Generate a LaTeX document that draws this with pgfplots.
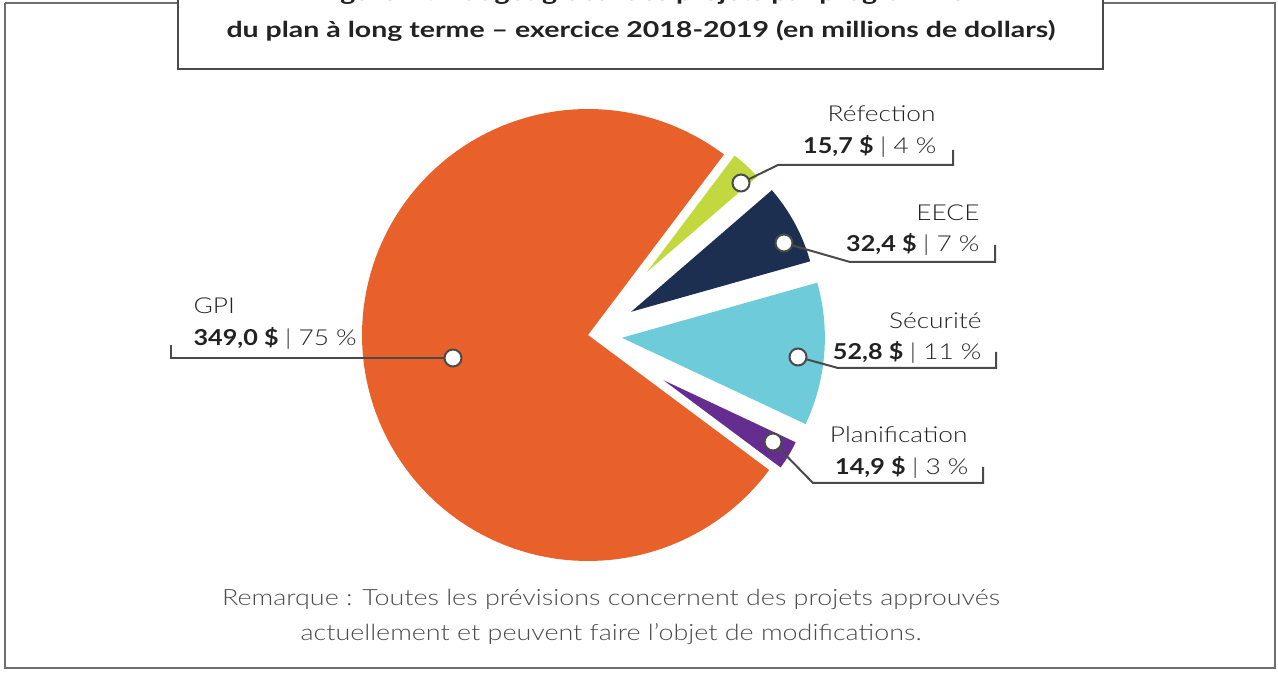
\documentclass[border=0pt]{standalone}
\usepackage{fontspec}
\setmainfont{Lato}[FakeStretch=1.15]
\newfontfamily\lightfont{Lato Light}[FakeStretch=1.2]
\newfontfamily\titlefont{Lato}[FakeStretch=1.3]
\usepackage{pgfplots}
\pgfplotsset{compat=1.18}
\definecolor{gpi}{HTML}{E8602A}
\definecolor{refc}{HTML}{C3D83F}
\definecolor{eece}{HTML}{1D2F50}
\definecolor{secc}{HTML}{6ECBD9}
\definecolor{plan}{HTML}{652D8F}
\definecolor{ink}{HTML}{4A4A4A}
\definecolor{txt}{HTML}{222222}
\definecolor{frame}{HTML}{6E6E6E}

% values (millions $)
\def\vGPI{349.0}
\def\vPLAN{14.9}
\def\vSEC{52.8}
\def\vEECE{32.4}
\def\vREF{15.7}

\newcommand{\slice}[5]{%
 \pgfmathsetmacro{\mA}{(#1+#2)/2}%
 \pgfmathsetmacro{\cX}{588+#4*cos(\mA)}%
 \pgfmathsetmacro{\cY}{342+#4*sin(\mA)}%
 \edef\doit{\noexpand\addplot[fill=#5,draw=none,domain=#1:#2,samples=120,variable=\noexpand\t] ({\cX+#3*cos(\noexpand\t)},{\cY+#3*sin(\noexpand\t)}) -- (axis cs:\cX,\cY) -- cycle;}%
 \doit}

\begin{document}
\begin{tikzpicture}
\pgfmathsetmacro{\tot}{\vGPI+\vPLAN+\vSEC+\vEECE+\vREF}
\pgfmathsetmacro{\aA}{53}
\pgfmathsetmacro{\aB}{\aA+360*(\vGPI/\tot)}
\pgfmathsetmacro{\aC}{\aB+360*(\vPLAN/\tot)}
\pgfmathsetmacro{\aD}{\aC+360*(\vSEC/\tot)}
\pgfmathsetmacro{\aE}{\aD+360*(\vEECE/\tot)}
\pgfmathsetmacro{\aF}{\aE+360*(\vREF/\tot)}
\begin{axis}[width=1278bp,height=677bp,scale only axis,
  xmin=0,xmax=1278,ymin=0,ymax=677,hide axis,clip=false,
  anchor=south west,at={(0,0)}]
% outer frame
\addplot[draw=frame,line width=1.5bp] coordinates {(5,674) (5,9) (1275,9) (1275,674) (5,674)};
% title box
\addplot[draw=ink,fill=white,line width=1.5bp] coordinates {(178,700) (178,608) (1103,608) (1103,700)};
\node[anchor=base,font=\titlefont\bfseries\fontsize{22}{26}\selectfont,text=txt] at (axis cs:641,676) {Figure 2 : Budget global des projets par programme};
\node[anchor=base,font=\titlefont\bfseries\fontsize{22}{26}\selectfont,text=txt] at (axis cs:641,639) {du plan à long terme – exercice 2018-2019 (en millions de dollars)};
% slices
\slice{\aA}{\aB}{226}{0}{gpi}
\slice{\aB}{\aC}{146}{88}{plan}
\slice{\aC}{\aD}{203}{34}{secc}
\slice{\aD}{\aE}{186}{49}{eece}
\slice{\aE}{\aF}{146}{86}{refc}
% leader lines
\addplot[draw=ink,line width=2bp] coordinates {(453,319) (171,319) (171,332)};
\addplot[draw=ink,line width=2bp] coordinates {(741,494) (778,512) (953,512) (953,527)};
\addplot[draw=ink,line width=2bp] coordinates {(784,434) (850,415) (995,415) (995,432)};
\addplot[draw=ink,line width=2bp] coordinates {(798,320) (838,309) (996,309) (996,325)};
\addplot[draw=ink,line width=2bp] coordinates {(773,235) (813,194) (983,194) (983,210)};
\addplot[only marks,mark=*,mark size=8.5bp,mark options={fill=white,draw=ink,line width=2bp}] coordinates {(453,319) (741,494) (784,434) (798,320) (773,235)};
% labels
\node[anchor=base west,font=\lightfont\fontsize{22}{26}\selectfont,text=txt] at (axis cs:190,363) {GPI};
\node[anchor=base west,font=\fontsize{22}{26}\selectfont,text=txt] at (axis cs:190,331) {\textbf{349,0 \$} {\lightfont| 75 \%}};
\node[anchor=base east,font=\lightfont\fontsize{22}{26}\selectfont,text=txt] at (axis cs:939,555) {Réfection};
\node[anchor=base east,font=\fontsize{22}{26}\selectfont,text=txt] at (axis cs:940,523) {\textbf{15,7 \$} {\lightfont| 4 \%}};
\node[anchor=base east,font=\lightfont\fontsize{22}{26}\selectfont,text=txt] at (axis cs:983,456) {EECE};
\node[anchor=base east,font=\fontsize{22}{26}\selectfont,text=txt] at (axis cs:983,425) {\textbf{32,4 \$} {\lightfont| 7 \%}};
\node[anchor=base east,font=\lightfont\fontsize{22}{26}\selectfont,text=txt] at (axis cs:985,348) {Sécurité};
\node[anchor=base east,font=\fontsize{22}{26}\selectfont,text=txt] at (axis cs:985,317) {\textbf{52,8 \$} {\lightfont| 11 \%}};
\node[anchor=base east,font=\lightfont\fontsize{22}{26}\selectfont,text=txt] at (axis cs:971,234) {Planification};
\node[anchor=base east,font=\fontsize{22}{26}\selectfont,text=txt] at (axis cs:972,202) {\textbf{14,9 \$} {\lightfont| 3 \%}};
% note
\node[anchor=base,font=\lightfont\fontsize{22.5}{27}\selectfont,text=ink] at (axis cs:611,71) {Remarque : Toutes les prévisions concernent des projets approuvés};
\node[anchor=base,font=\lightfont\fontsize{22.5}{27}\selectfont,text=ink] at (axis cs:611,36) {actuellement et peuvent faire l’objet de modifications.};
\end{axis}
\pgfresetboundingbox
\useasboundingbox (0,0) rectangle (1278bp,677bp);
\end{tikzpicture}
\end{document}
